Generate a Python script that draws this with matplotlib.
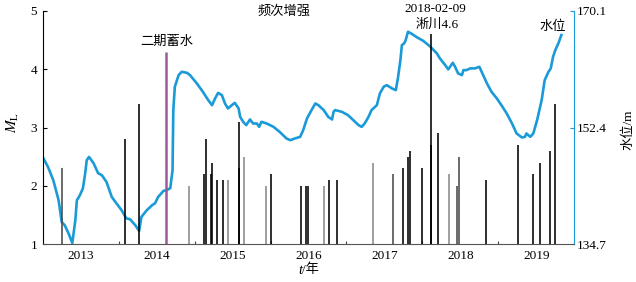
import matplotlib
matplotlib.use("Agg")
import matplotlib.pyplot as plt
import numpy as np

plt.rcParams['font.family'] = ['Liberation Serif', 'Noto Sans CJK SC', 'DejaVu Sans']
plt.rcParams['mathtext.fontset'] = 'stix'

# water level (m), decimal year
wl_year = [2013.00, 2013.07, 2013.14, 2013.21, 2013.25, 2013.29, 2013.34, 2013.39, 2013.43, 2013.45,
           2013.49, 2013.53, 2013.56, 2013.58, 2013.61, 2013.67, 2013.73, 2013.78, 2013.84, 2013.91,
           2013.97, 2014.04, 2014.10, 2014.15, 2014.22, 2014.27, 2014.30, 2014.37, 2014.44, 2014.48,
           2014.52, 2014.59, 2014.63, 2014.68, 2014.71, 2014.72, 2014.74, 2014.79, 2014.83, 2014.90,
           2014.94, 2015.03, 2015.11, 2015.18, 2015.23, 2015.27, 2015.31, 2015.36, 2015.40, 2015.44,
           2015.49, 2015.53, 2015.58, 2015.60, 2015.64, 2015.68, 2015.73, 2015.77, 2015.82, 2015.85,
           2015.88, 2015.95, 2016.04, 2016.12, 2016.21, 2016.26, 2016.32, 2016.39, 2016.43, 2016.48,
           2016.54, 2016.59, 2016.63, 2016.70, 2016.76, 2016.81, 2016.83, 2016.85, 2016.94, 2017.02,
           2017.09, 2017.16, 2017.20, 2017.24, 2017.29, 2017.33, 2017.40, 2017.44, 2017.49, 2017.53,
           2017.60, 2017.65, 2017.68, 2017.71, 2017.73, 2017.76, 2017.78, 2017.81, 2017.85, 2017.93,
           2018.01, 2018.10, 2018.19, 2018.23, 2018.30, 2018.34, 2018.40, 2018.43, 2018.47, 2018.52,
           2018.54, 2018.58, 2018.63, 2018.69, 2018.75, 2018.79, 2018.85, 2018.91, 2018.98, 2019.04,
           2019.11, 2019.18, 2019.24, 2019.31, 2019.35, 2019.37, 2019.42, 2019.46, 2019.51, 2019.57,
           2019.61, 2019.66, 2019.69, 2019.72, 2019.75, 2019.79, 2019.83]
wl_level = [147.96, 146.44, 144.42, 141.38, 138.09, 137.59, 136.37, 134.90, 138.35, 141.38,
            142.14, 143.21, 145.49, 147.46, 147.96, 147.00, 145.49, 145.18, 144.16, 141.88,
            140.93, 139.86, 138.65, 138.50, 137.59, 136.72, 138.85, 139.86, 140.62, 140.93,
            141.88, 142.80, 142.90, 143.21, 145.94, 155.06, 158.60, 160.37, 160.87, 160.72,
            160.37, 159.11, 157.83, 156.57, 155.81, 156.83, 157.68, 157.33, 156.07, 155.31,
            155.81, 156.16, 155.31, 154.04, 153.28, 152.78, 153.64, 153.03, 153.03, 152.52,
            153.28, 153.03, 152.52, 151.76, 150.76, 150.50, 150.76, 151.00, 152.02, 153.79,
            155.06, 156.07, 155.81, 155.06, 154.04, 153.64, 154.80, 155.06, 154.80, 154.30,
            153.54, 152.78, 152.52, 153.03, 154.04, 155.06, 155.81, 157.59, 158.60, 158.85,
            158.35, 158.09, 160.11, 162.65, 164.93, 165.19, 165.69, 166.95, 166.70, 166.10,
            165.58, 164.73, 163.67, 162.91, 161.89, 161.24, 162.24, 161.63, 160.63, 160.37,
            161.13, 161.13, 161.39, 161.39, 161.63, 160.63, 159.11, 157.83, 156.83, 155.81,
            154.55, 153.03, 151.52, 150.91, 151.00, 151.52, 151.00, 151.52, 153.54, 156.57,
            159.61, 160.87, 161.39, 163.15, 164.17, 165.19, 166.45]

# earthquakes
eq_year = [2013.25, 2014.09, 2014.27, 2014.93, 2015.13, 2015.15, 2015.21, 2015.23, 2015.29, 2015.38,
           2015.44, 2015.58, 2015.59, 2015.65, 2015.94, 2016.01, 2016.40, 2016.47, 2016.49, 2016.70,
           2016.77, 2016.87, 2017.35, 2017.61, 2017.75, 2017.81, 2017.83, 2018.00, 2018.11, 2018.115,
           2018.20, 2018.35, 2018.46, 2018.48, 2018.84, 2019.26, 2019.46, 2019.55, 2019.68, 2019.75]
eq_ml = [2.3, 2.8, 3.4, 2.0, 2.2, 2.8, 2.2, 2.4, 2.1, 2.1,
         2.1, 3.1, 2.3, 2.5, 2.0, 2.2, 2.0, 2.0, 2.0, 2.0,
         2.1, 2.1, 2.4, 2.2, 2.3, 2.5, 2.6, 2.3, 4.6, 2.7,
         2.9, 2.2, 2.0, 2.5, 2.1, 2.7, 2.2, 2.4, 2.6, 3.4]
gray_years = [2014.93, 2015.44, 2015.65, 2015.94, 2016.70, 2017.35, 2018.35]
dark_years = [2013.25, 2017.61, 2018.46, 2018.48]

impound_year = 2014.63
impound_top = 4.3

year_labels = ['2013', '2014', '2015', '2016', '2017', '2018', '2019']

BLUE = '#1b9ad8'
PURPLE = '#9c5a9a'

fig = plt.figure(figsize=(6.36, 2.82), dpi=100)
ax = fig.add_axes([0.0671, 0.1337, 0.8359, 0.8273])
ax2 = ax.twinx()

ax2.plot(wl_year, wl_level, color=BLUE, lw=1.9, solid_joinstyle='round')
ax2.set_ylim(134.7, 170.1)
ax2.set_yticks([134.7, 152.4, 170.1])
ax2.set_yticklabels(['134.7', '152.4', '170.1'], fontsize=9.5)
ax2.tick_params(axis='y', direction='in', length=3, color=BLUE, pad=2)

for yr, m in zip(eq_year, eq_ml):
    if yr in gray_years:
        c = '#8a8a8a'
    elif yr in dark_years:
        c = '#4a4a4a'
    else:
        c = 'black'
    ax.vlines(yr, 1, m, color=c, lw=1.15)
ax.vlines(impound_year, 1, impound_top, color=PURPLE, lw=1.8)

ax.set_xlim(2013, 2020)
ax.set_ylim(1, 5)
ax.set_yticks([1, 2, 3, 4, 5])
ax.set_yticklabels(['1', '2', '3', '4', '5'], fontsize=9.5)
ax.set_xticks(np.arange(2014, 2020))
ax.set_xticklabels([])
ax.set_xticks(np.arange(2013.5, 2020, 1.0), minor=True)
ax.set_xticklabels(year_labels, minor=True, fontsize=9.5)
ax.tick_params(axis='x', which='major', direction='in', length=2.5, color='#444444')
ax.tick_params(axis='x', which='minor', length=0, pad=4)
ax.tick_params(axis='y', direction='in', length=3, pad=4)

ax.set_zorder(ax2.get_zorder() + 1)
ax.patch.set_visible(False)

for a in (ax, ax2):
    a.spines['top'].set_visible(False)
ax2.spines['left'].set_visible(False)
ax.spines['right'].set_visible(False)
ax2.spines['right'].set_color(BLUE)
ax2.spines['bottom'].set_visible(False)
ax.spines['bottom'].set_color('#555555')

tf = dict(fontsize=9.5, ha='center', va='center', clip_on=False)
ax.text(2016.18, 4.99, '频次增强', **tf)
ax.text(2018.17, 5.03, '2018-02-09', **tf)
ax.text(2018.19, 4.76, '淅川4.6', **tf)
ax.text(2019.71, 4.73, '水位', **tf)
ax.text(2014.64, 4.47, '二期蓄水', **tf)

fig.text(13/636, 1-122/282, r'$M_{\mathrm{L}}$', rotation=90, fontsize=11, ha='center', va='center')
fig.text(628/636, 1-130/282, '水位/m', rotation=90, fontsize=9.5, ha='center', va='center')
fig.text(302/636, 1-270/282, 't', fontsize=10.5, style='italic', family='Liberation Serif',
         ha='right', va='center')
fig.text(302.5/636, 1-270/282, '/年', fontsize=9.5, ha='left', va='center')

fig.savefig('out.png', dpi=100)
